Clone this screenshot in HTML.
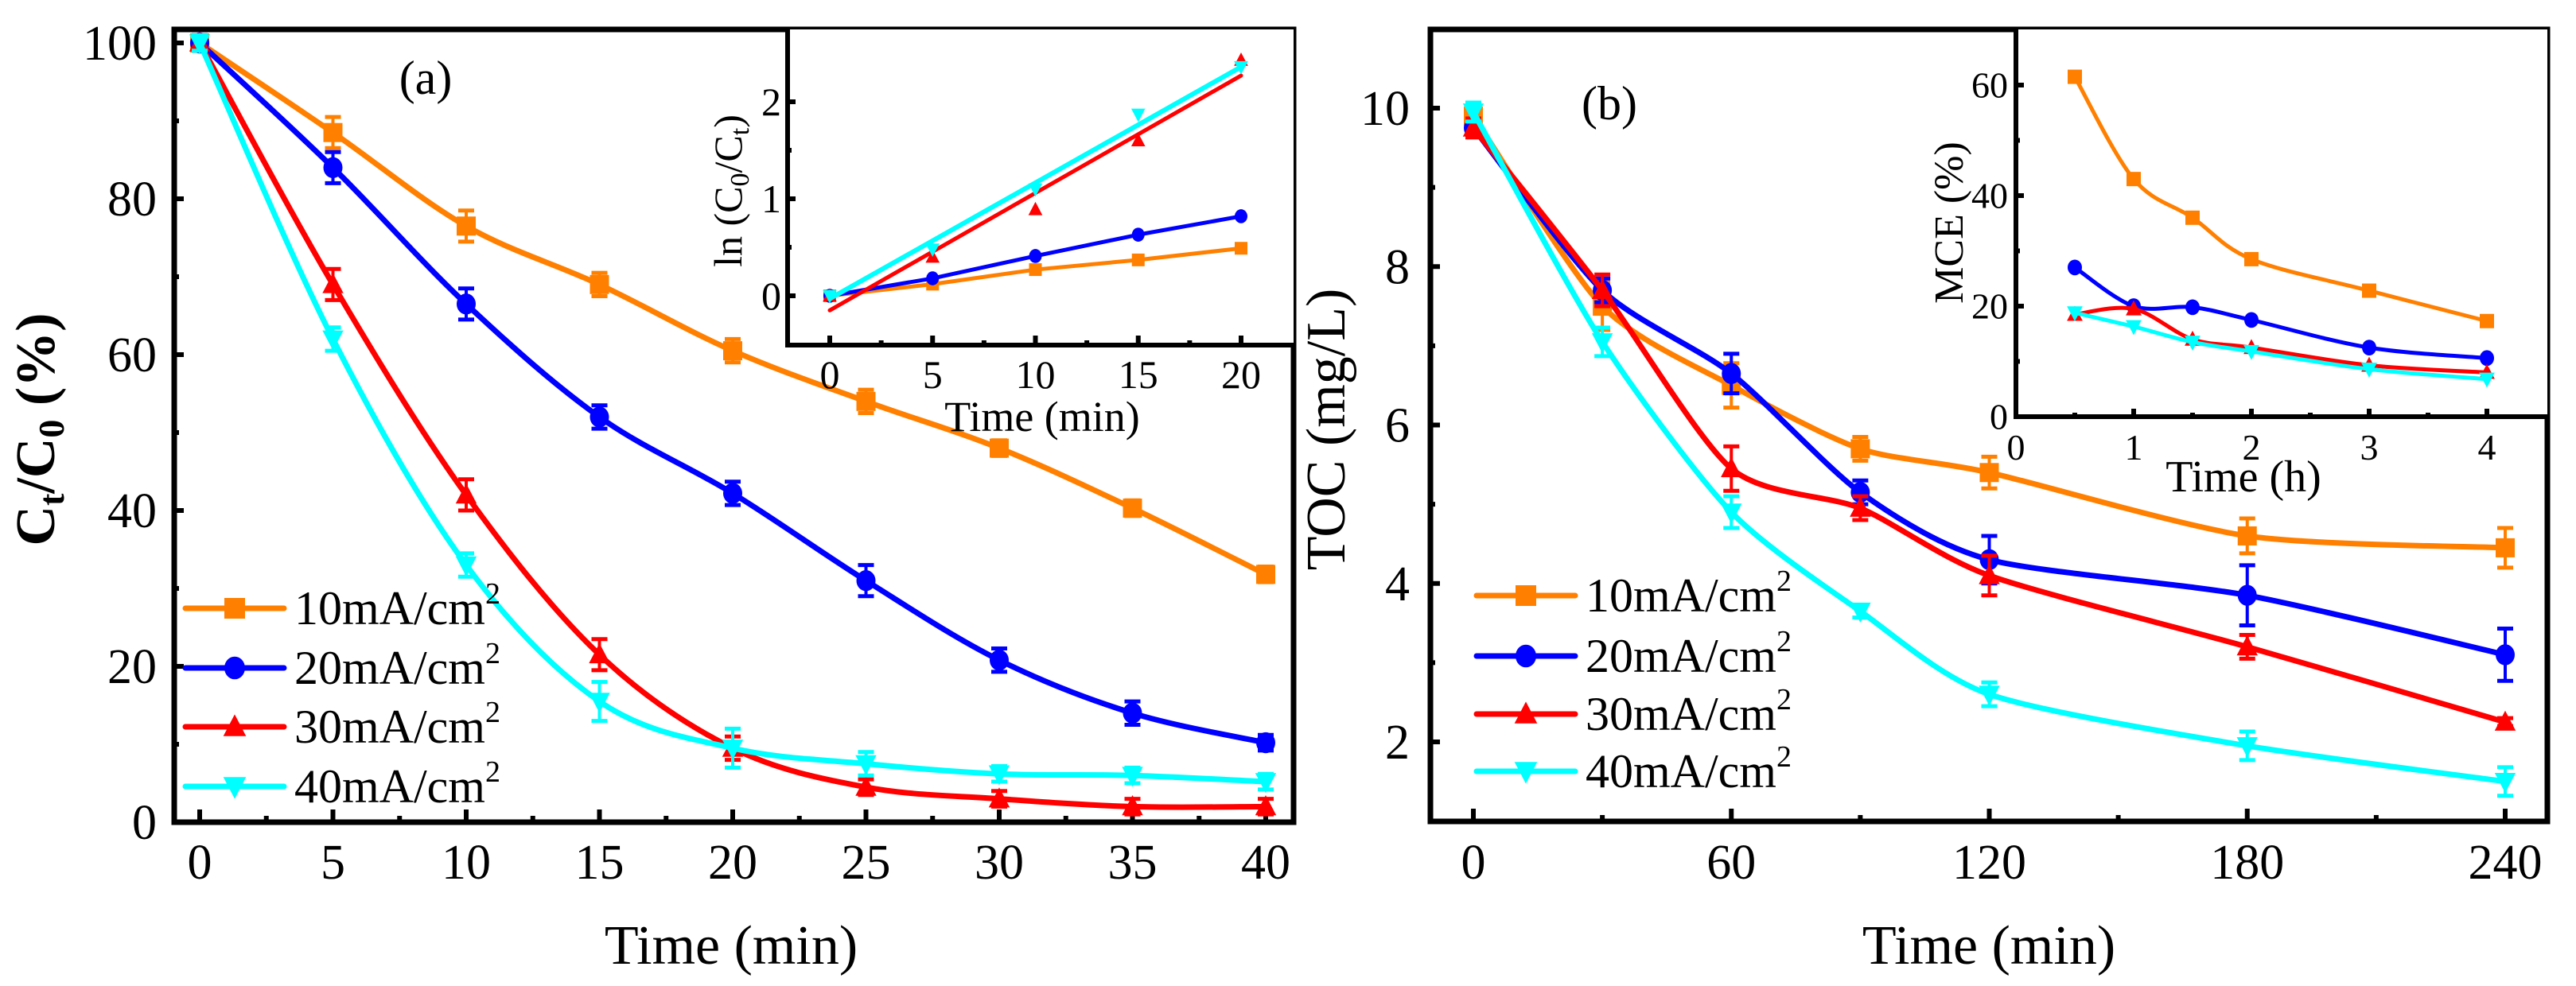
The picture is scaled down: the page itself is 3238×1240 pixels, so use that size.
<!DOCTYPE html>
<html><head><meta charset="utf-8"><style>
html,body{margin:0;padding:0;background:#fff}
svg{display:block}
svg text{font-family:"Liberation Serif","DejaVu Serif",serif;fill:#000}
</style></head><body>
<svg id="chart" xmlns="http://www.w3.org/2000/svg" width="3238" height="1240" viewBox="0 0 3238 1240" font-family="Liberation Serif, DejaVu Serif, serif"></svg>
<script>
// ---------- data ----------
const timeA = [0,5,10,15,20,25,30,35,40];
const ctA10 = [100,88.5,76.5,69,60.5,54,48,40.3,31.8];
const ctA20 = [100,84,66.5,52,42.2,31,20.8,14,10.2];
const ctA30 = [100,69,42,21.5,9.5,4.5,3,2,2];
const ctA40 = [100,62,33,15.5,9.5,7.5,6.2,6,5.2];
const errA10 = [1,2,2,1.5,1.5,1.5,1,1,1];
const errA20 = [1,2,2,1.5,1.5,2,1.5,1.5,1];
const errA30 = [1,2,2,2,1.5,1,1,1,1];
const errA40 = [1,1.5,1.5,2.5,2.5,1.5,1,1,1];
const timeIA = [0,5,10,15,20];
const lnA10 = [0,0.12,0.27,0.37,0.49];
const lnA20 = [0,0.18,0.41,0.63,0.82];
const lnA30 = [0,0.4,0.89,1.6,2.43];
const lnA40 = [0,0.48,1.1,1.87,2.36];
const fitA30 = [-0.15,2.27];
const fitA40 = [-0.03,2.36];
const timeB = [0,30,60,90,120,180,240];
const tocB10 = [9.9,7.5,6.5,5.7,5.4,4.6,4.45];
const tocB20 = [9.75,7.7,6.65,5.15,4.3,3.85,3.1];
const tocB30 = [9.75,7.7,5.45,4.95,4.1,3.2,2.25];
const tocB40 = [9.95,7.05,4.9,3.65,2.6,1.95,1.5];
const errB10 = [0.1,0.3,0.28,0.15,0.2,0.22,0.25];
const errB20 = [0.1,0.15,0.25,0.15,0.3,0.38,0.33];
const errB30 = [0.12,0.2,0.28,0.15,0.25,0.15,0.05];
const errB40 = [0.12,0.18,0.2,0.08,0.15,0.18,0.18];
const timeIB = [0.5,1,1.5,2,3,4];
const mceB10 = [61.5,43,36,28.5,22.8,17.3];
const mceB20 = [27,20,19.8,17.5,12.5,10.6];
const mceB30 = [18.5,19.5,14,12.5,9.3,8];
const mceB40 = [18.8,16.3,13.5,11.8,8.6,6.8];
const legendLabels = ["10mA/cm","20mA/cm","30mA/cm","40mA/cm"];
const xTicksA = [0,5,10,15,20,25,30,35,40];
const yTicksA = [0,20,40,60,80,100];
const xTicksIA = [0,5,10,15,20];
const yTicksIA = [0,1,2];
const xTicksB = [0,60,120,180,240];
const yTicksB = [2,4,6,8,10];
const xTicksIB = [0,1,2,3,4];
const yTicksIB = [0,20,40,60];

const COL = ["#ff8000","#0000ff","#ff0000","#00ffff"];
const MK = ["sq","ci","tu","td"];
const NS = "http://www.w3.org/2000/svg";
const FF = "Liberation Serif, DejaVu Serif, serif";
const svg = document.getElementById("chart");
function el(tag, attrs, parent){const e=document.createElementNS(NS,tag);for(const k in attrs)e.setAttribute(k,attrs[k]);if(tag==="text")e.setAttribute("font-family",FF);(parent||svg).appendChild(e);return e;}
function scale(d0,d1,r0,r1){return v=>r0+(v-d0)*(r1-r0)/(d1-d0);}
function smooth(pts,k){
  k=k||6;
  let d="M"+pts[0][0]+","+pts[0][1];
  for(let i=0;i<pts.length-1;i++){
    const p0=pts[i-1]||pts[i],p1=pts[i],p2=pts[i+1],p3=pts[i+2]||p2;
    const c1=[p1[0]+(p2[0]-p0[0])/k,p1[1]+(p2[1]-p0[1])/k];
    const c2=[p2[0]-(p3[0]-p1[0])/k,p2[1]-(p3[1]-p1[1])/k];
    d+=" C"+c1+" "+c2+" "+p2;
  }
  return d;
}
function marker(g,type,x,y,s,color){
  if(type==="sq") el("rect",{x:x-s/2,y:y-s/2,width:s,height:s,fill:color},g);
  else if(type==="ci") el("ellipse",{cx:x,cy:y,rx:s/2,ry:s*0.55,fill:color},g);
  else if(type==="tu") el("polygon",{points:`${x},${y-s*0.6} ${x-s*0.55},${y+s*0.45} ${x+s*0.55},${y+s*0.45}`,fill:color},g);
  else el("polygon",{points:`${x},${y+s*0.6} ${x-s*0.55},${y-s*0.45} ${x+s*0.55},${y-s*0.45}`,fill:color},g);
}
function frame(g,l,t,r,b,w){el("rect",{x:l,y:t,width:r-l,height:b-t,fill:"none",stroke:"#000","stroke-width":w},g);}
function xticks(g,sx,ticks,minorStep,b,len,fs,ly){
  ticks.forEach(v=>{el("line",{x1:sx(v),x2:sx(v),y1:b,y2:b-len,stroke:"#000","stroke-width":6},g);
    const t=el("text",{x:sx(v),y:ly,"font-size":fs,"text-anchor":"middle"},g);t.textContent=v;});
  for(let i=0;i<ticks.length-1;i++){const v=ticks[i]+minorStep;el("line",{x1:sx(v),x2:sx(v),y1:b,y2:b-len/2,stroke:"#000","stroke-width":6},g);}
}
function yticks(g,sy,ticks,minorStep,l,len,fs,lx,extraTop){
  ticks.forEach(v=>{el("line",{x1:l,x2:l+len,y1:sy(v),y2:sy(v),stroke:"#000","stroke-width":6},g);
    const t=el("text",{x:lx,y:sy(v)+fs*0.34,"font-size":fs,"text-anchor":"end"},g);t.textContent=v;});
  const mins=ticks.slice(0,ticks.length-1).map(v=>v+minorStep);
  if(extraTop!==undefined) mins.push(extraTop);
  mins.forEach(v=>el("line",{x1:l,x2:l+len/2,y1:sy(v),y2:sy(v),stroke:"#000","stroke-width":6},g));
}
function series(g,name,xs,ys,errs,sx,sy,ci,lw,ms,curve){
  const s=el("g",{},g);
  
  
  const pts=xs.map((x,i)=>[sx(x),sy(ys[i])]);
  el("path",{d:curve?smooth(pts,curve):"M"+pts.join(" L"),fill:"none",stroke:COL[ci],"stroke-width":lw,"stroke-linejoin":"round","stroke-linecap":"round"},s);
  if(errs) xs.forEach((x,i)=>{const X=sx(x),y1=sy(ys[i]+errs[i]),y2=sy(ys[i]-errs[i]);
    el("line",{x1:X,x2:X,y1:y1,y2:y2,stroke:COL[ci],"stroke-width":4},s);
    el("line",{x1:X-10,x2:X+10,y1:y1,y2:y1,stroke:COL[ci],"stroke-width":5},s);
    el("line",{x1:X-10,x2:X+10,y1:y2,y2:y2,stroke:COL[ci],"stroke-width":5},s);});
  pts.forEach(p=>marker(s,MK[ci],p[0],p[1],ms,COL[ci]));
  return s;
}
function fitLine(g,name,x0,x1,f,sx,sy,ci,lw){
  const l=el("line",{x1:sx(x0),x2:sx(x1),y1:sy(f[0]),y2:sy(f[1]),stroke:COL[ci],"stroke-width":lw,"stroke-linecap":"round"},g);
  
  
}
function legend(g,x0,ys){
  ys.forEach((y,i)=>{
    const e=el("g",{},g);
    
    
    el("line",{x1:x0,x2:x0+124,y1:y,y2:y,stroke:COL[i],"stroke-width":7,"stroke-linecap":"round"},e);
    marker(e,MK[i],x0+62,y,26,COL[i]);
    const t=el("text",{x:x0+137,y:y+20,"font-size":60},e);
    t.textContent=legendLabels[i];
    const s=el("tspan",{dy:-26,"font-size":38},t);s.textContent="2";
  });
}
function txt(g,name,x,y,fs,s,extra){const t=el("text",Object.assign({x:x,y:y,"font-size":fs},extra||{}),g);t.textContent=s;return t;}

// ---------- panel (a) ----------
const gA=el("g",{});
const axA=[219,37,1626,1034];
const sxA=scale(0,40,251,1591), syA=scale(0,100,1034,54);
xticks(gA,sxA,xTicksA,2.5,axA[3],16,62,1105);
yticks(gA,syA,yTicksA,10,axA[0],12,62,197);
series(gA,'series-10ma',timeA,ctA10,errA10,sxA,syA,0,7,24,6);
series(gA,'series-20ma',timeA,ctA20,errA20,sxA,syA,1,7,24,6);
series(gA,'series-30ma',timeA,ctA30,errA30,sxA,syA,2,7,24,6);
series(gA,'series-40ma',timeA,ctA40,errA40,sxA,syA,3,7,24,6);
frame(gA,axA[0],axA[1],axA[2],axA[3],7);
legend(gA,233,[765,840,914,989]);
txt(gA,'panel-label-a',535,118,60,"(a)",{"text-anchor":"middle"});
txt(gA,'x-axis-title-a',919,1212,70,"Time (min)",{"text-anchor":"middle"});
const ytA=el("text",{transform:"translate(68,540) rotate(-90)","font-size":70,"font-weight":"bold","text-anchor":"middle"},gA);

ytA.innerHTML='C<tspan font-size="46" dy="12">t</tspan><tspan dy="-12">/C</tspan><tspan font-size="46" dy="12">0</tspan><tspan dy="-12"> (%)</tspan>';

// inset (a)
const gIA=el("g",{});
el("rect",{x:990,y:37,width:636,height:397,fill:"#fff"},gIA);
const sxIA=scale(0,20,1043,1560), syIA=scale(0,2,372,128);
xticks(gIA,sxIA,xTicksIA,2.5,434,12,50,488);
yticks(gIA,syIA,yTicksIA,0.5,990,10,50,982);
series(gIA,'inset-series-10ma',timeIA,lnA10,null,sxIA,syIA,0,5,16,0);
series(gIA,'inset-series-20ma',timeIA,lnA20,null,sxIA,syIA,1,5,16,0);
const s30=el("g",{},gIA);
fitLine(s30,'fit-line-30ma',0,20,fitA30,sxIA,syIA,2,5);
timeIA.forEach((x,i)=>marker(s30,"tu",sxIA(x),syIA(lnA30[i]),16,COL[2]));
const s40=el("g",{},gIA);
fitLine(s40,'fit-line-40ma',0,20,fitA40,sxIA,syIA,3,6);
timeIA.forEach((x,i)=>marker(s40,"td",sxIA(x),syIA(lnA40[i]),16,COL[3]));
el("polyline",{points:"990,37 990,434 1626,434",fill:"none",stroke:"#000","stroke-width":6},gIA);
txt(gIA,'inset-x-axis-title-a',1310,542,54,"Time (min)",{"text-anchor":"middle"});
const yIA=el("text",{transform:"translate(932,240) rotate(-90)","font-size":50,"text-anchor":"middle"},gIA);

yIA.innerHTML='ln (C<tspan font-size="34" dy="9">0</tspan><tspan dy="-9">/C</tspan><tspan font-size="34" dy="9">t</tspan><tspan dy="-9">)</tspan>';

// ---------- panel (b) ----------
const gB=el("g",{});
const axB=[1798,37,3202,1033];
const sxB=scale(0,240,1852,3149), syB=scale(2,10,933,136);
xticks(gB,sxB,xTicksB,30,axB[3],16,62,1105);
yticks(gB,syB,yTicksB,1,axB[0],12,62,1772,1);
series(gB,'series-10ma',timeB,tocB10,errB10,sxB,syB,0,7,24,8);
series(gB,'series-20ma',timeB,tocB20,errB20,sxB,syB,1,7,24,8);
series(gB,'series-30ma',timeB,tocB30,errB30,sxB,syB,2,7,24,8);
series(gB,'series-40ma',timeB,tocB40,errB40,sxB,syB,3,7,24,8);
frame(gB,axB[0],axB[1],axB[2],axB[3],7);
legend(gB,1856,[749,825,898,970]);
txt(gB,'panel-label-b',2023,150,60,"(b)",{"text-anchor":"middle"});
txt(gB,'x-axis-title-b',2500,1212,70,"Time (min)",{"text-anchor":"middle"});
txt(gB,'y-axis-title-b',0,0,70,"TOC (mg/L)",{"text-anchor":"middle",transform:"translate(1690,540) rotate(-90)"});

// inset (b)
const gIB=el("g",{});
el("rect",{x:2534,y:37,width:668,height:487,fill:"#fff"},gIB);
const sxIB=scale(0,4,2534,3126), syIB=scale(0,60,524,107);
xticks(gIB,sxIB,xTicksIB,0.5,524,10,46,578);
yticks(gIB,syIB,yTicksIB,10,2534,10,46,2524);
series(gIB,'inset-series-10ma',timeIB,mceB10,null,sxIB,syIB,0,5,18,6);
series(gIB,'inset-series-20ma',timeIB,mceB20,null,sxIB,syIB,1,5,18,6);
series(gIB,'inset-series-30ma',timeIB,mceB30,null,sxIB,syIB,2,5,18,6);
series(gIB,'inset-series-40ma',timeIB,mceB40,null,sxIB,syIB,3,5,18,6);
el("polyline",{points:"2534,37 2534,524 3202,524",fill:"none",stroke:"#000","stroke-width":6},gIB);
txt(gIB,'inset-x-axis-title-b',2820,618,56,"Time (h)",{"text-anchor":"middle"});
txt(gIB,'inset-y-axis-title-b',0,0,52,"MCE (%)",{"text-anchor":"middle",transform:"translate(2467,280) rotate(-90)"});
</script>
</body></html>
